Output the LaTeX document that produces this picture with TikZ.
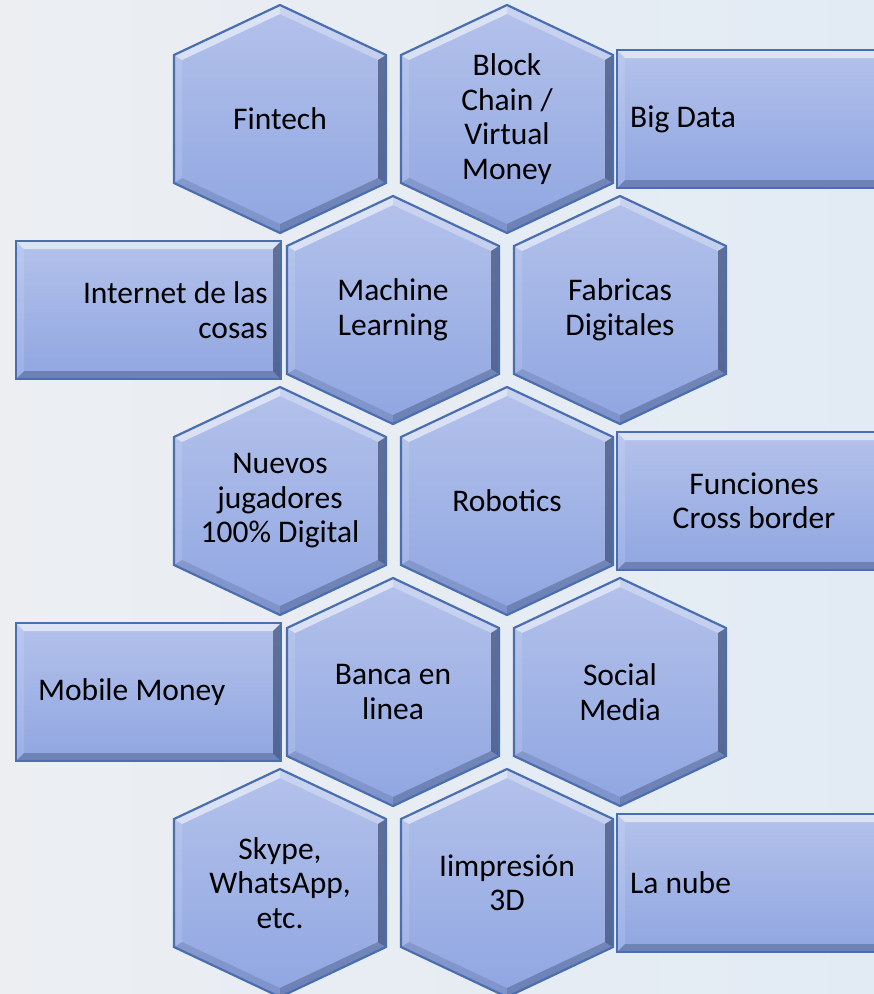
\documentclass[tikz,border=0pt]{standalone}
\usepackage{fontspec}
\setmainfont{Carlito}
\usepackage{tikz}
\usetikzlibrary{positioning,calc}
\definecolor{celltop}{RGB}{180,194,235}
\definecolor{cellbottom}{RGB}{144,166,225}
\definecolor{celledge}{RGB}{74,110,178}
\definecolor{celldark}{RGB}{20,35,70}
\definecolor{bgleft}{RGB}{236,238,242}
\definecolor{bgright}{RGB}{226,235,244}

% hexagon cell: name, x, y, text
\newcommand{\hexcell}[4]{%
  \begin{scope}[shift={(#2,#3)}]
    \fill[cellfill] (0,-114) -- (106,-64) -- (106,64) -- (0,114) -- (-106,64) -- (-106,-64) -- cycle;
    \fill[white, opacity=.55] (-106,-64) -- (0,-114) -- (0,-105) -- (-98,-59) -- cycle;
    \fill[white, opacity=.3] (0,-114) -- (106,-64) -- (98,-59) -- (0,-105) -- cycle;
    \fill[celldark, opacity=.5] (106,-64) -- (106,64) -- (98,59) -- (98,-59) -- cycle;
    \fill[celldark, opacity=.28] (106,64) -- (0,114) -- (0,105) -- (98,59) -- cycle;
    \fill[celldark, opacity=.14] (0,114) -- (-106,64) -- (-98,59) -- (0,105) -- cycle;
    \fill[white, opacity=.12] (-106,64) -- (-106,-64) -- (-98,-59) -- (-98,59) -- cycle;
    \draw[celloutline] (0,-114) -- (106,-64) -- (106,64) -- (0,114) -- (-106,64) -- (-106,-64) -- cycle;
  \end{scope}
  \node[celltext] (#1) at (#2,#3) {#4};
}

% rectangle cell: x1, y1, x2, y2
\newcommand{\boxcell}[4]{%
  \fill[cellfill] (#1,#2) rectangle (#3,#4);
  \fill[white, opacity=.55] (#1,#2) -- (#3,#2) -- ($(#3,#2)+(-8,8)$) -- ($(#1,#2)+(8,8)$) -- cycle;
  \fill[celldark, opacity=.5] (#3,#2) -- (#3,#4) -- ($(#3,#4)+(-8,-8)$) -- ($(#3,#2)+(-8,8)$) -- cycle;
  \fill[celldark, opacity=.28] (#3,#4) -- (#1,#4) -- ($(#1,#4)+(8,-8)$) -- ($(#3,#4)+(-8,-8)$) -- cycle;
  \fill[white, opacity=.12] (#1,#4) -- (#1,#2) -- ($(#1,#2)+(8,8)$) -- ($(#1,#4)+(8,-8)$) -- cycle;
  \draw[celloutline] (#1,#2) rectangle (#3,#4);
}

\begin{document}
\begin{tikzpicture}[
    x=1pt, y=-1pt,
    cellfill/.style={top color=celltop, bottom color=cellbottom},
    celloutline/.style={draw=celledge, line width=2.2pt, line join=miter},
    celltext/.style={align=center, font=\fontsize{31.5}{34.5}\selectfont, text=black, inner sep=0pt},
    boxtext/.style={align=left, font=\fontsize{31.5}{34.5}\selectfont, text=black, inner sep=0pt}
]
\useasboundingbox (0,0) rectangle (874,994);
\clip (0,0) rectangle (874,994);
\fill[left color=bgleft, right color=bgright] (0,0) rectangle (874,994);

% row 1
\hexcell{fintech}{280}{119}{Fintech}
\hexcell{blockchain}{507}{119}{Block\\Chain /\\Virtual\\Money}
\boxcell{617}{50}{892}{188}
\node[boxtext, anchor=west] (bigdata) at (630,119) {Big Data};

% row 2
\boxcell{16}{241}{281}{379}
\node[boxtext, align=right, anchor=east] (iot) at (268,310) {Internet de las\\cosas};
\hexcell{machine}{393}{310}{Machine\\Learning}
\hexcell{fabricas}{620}{310}{Fabricas\\Digitales}

% row 3
\hexcell{nuevos}{280}{501}{Nuevos\\jugadores\\100\% Digital}
\hexcell{robotics}{507}{501}{Robotics}
\boxcell{617}{432}{892}{570}
\node[boxtext, align=center] (crossborder) at (754,501) {Funciones\\Cross border};

% row 4
\boxcell{16}{623}{281}{761}
\node[boxtext, anchor=west] (mobile) at (38,692) {Mobile Money};
\hexcell{banca}{393}{692}{Banca en\\linea}
\hexcell{social}{620}{692}{Social\\Media}

% row 5
\hexcell{skype}{280}{883}{Skype,\\WhatsApp,\\etc.}
\hexcell{impresion}{507}{883}{Iimpresión\\3D}
\boxcell{617}{814}{892}{952}
\node[boxtext, anchor=west] (nube) at (630,883) {La nube};

\end{tikzpicture}
\end{document}
